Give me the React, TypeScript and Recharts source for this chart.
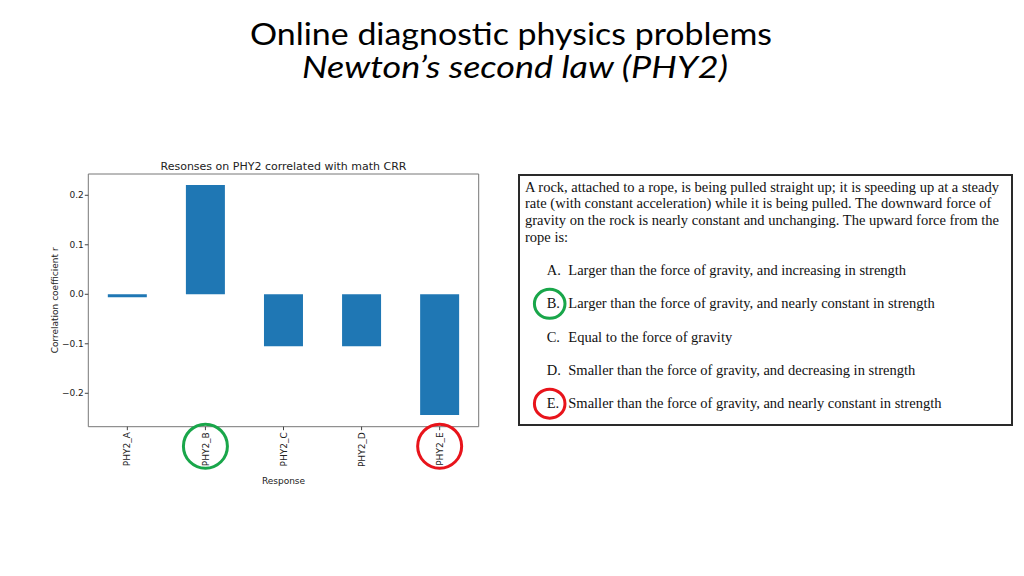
import React from 'react';
import { BarChart, Bar, XAxis, YAxis, Label } from 'recharts';

const categories = ['PHY2_A', 'PHY2_B', 'PHY2_C', 'PHY2_D', 'PHY2_E'];
const correlations = [-0.006, 0.221, -0.105, -0.105, -0.244];
const yTicks = [-0.2, -0.1, 0, 0.1, 0.2];
const yDomain = [-0.2675, 0.243];
const circledCategories: Record<string, string> = { PHY2_B: '#19a64a', PHY2_E: '#e8141b' };

const pageTitle = 'Online diagnostic physics problems';
const pageSubtitle = 'Newton\u2019s second law (PHY2)';
const chartTitle = 'Resonses on PHY2 correlated with math CRR';
const yLabel = 'Correlation coefficient r';
const xLabel = 'Response';

const questionLines = [
  'A rock, attached to a rope, is being pulled straight up; it is speeding up at a steady',
  'rate (with constant acceleration) while it is being pulled. The downward force of',
  'gravity on the rock is nearly constant and unchanging. The upward force from the',
  'rope is:',
];
const optionLetters = ['A.', 'B.', 'C.', 'D.', 'E.'];
const optionTexts = [
  'Larger than the force of gravity, and increasing in strength',
  'Larger than the force of gravity, and nearly constant in strength',
  'Equal to the force of gravity',
  'Smaller than the force of gravity, and decreasing in strength',
  'Smaller than the force of gravity, and nearly constant in strength',
];
const circledOptions: Record<string, string> = { 'B.': '#19a64a', 'E.': '#e8141b' };

const data = categories.map((c, i) => ({ name: c, r: correlations[i] }));

const FONT = '"DejaVu Sans", sans-serif';
const SERIF = '"Liberation Serif", "Times New Roman", serif';

const fmt = (v: number) => (v < 0 ? '\u2212' : '') + Math.abs(v).toFixed(1);

const XTick = (props: any) => {
  const { x, y, payload } = props;
  const col = circledCategories[payload.value];
  return (
    <g transform={`translate(${x},${y})`}>
      <text
        transform="rotate(-90)"
        x={0}
        y={0}
        dy="0.35em"
        textAnchor="end"
        fontSize={9}
        fontFamily={FONT}
        fill="#222"
      >
        {payload.value}
      </text>
      {col && <circle cx={0} cy={14} r={22} fill="none" stroke={col} strokeWidth={3} />}
    </g>
  );
};

export default function App() {
  const optTop = 275;
  const optStep = 33.3;
  return (
    <div
      style={{
        position: 'absolute',
        left: 0,
        top: 0,
        width: 1024,
        height: 576,
        background: '#fff',
        overflow: 'hidden',
      }}
    >
      <div style={{ position: 'absolute', left: 30, top: 140 }}>
        <BarChart
          width={470}
          height={360}
          data={data}
          margin={{ top: 33, right: 20.3, left: 0, bottom: 0 }}
          barCategoryGap="25%"
        >
          <XAxis
            dataKey="name"
            xAxisId="bottom"
            height={73.3}
            tickSize={3.5}
            tickMargin={2}
            tick={<XTick />}
            axisLine={{ stroke: '#777' }}
            tickLine={{ stroke: '#444' }}
            interval={0}
          >
            <Label
              value={xLabel}
              position="insideBottom"
              offset={16.5}
              style={{ fontFamily: FONT, fontSize: 9, fill: '#222' }}
            />
          </XAxis>
          <XAxis
            dataKey="name"
            xAxisId="top"
            orientation="top"
            height={1}
            tick={false}
            tickLine={false}
            axisLine={{ stroke: '#777' }}
          />
          <YAxis
            yAxisId="left"
            width={58.3}
            domain={yDomain}
            ticks={yTicks}
            allowDataOverflow
            tickFormatter={fmt}
            tickSize={3.5}
            tickMargin={1}
            tick={{ fontSize: 9, fontFamily: FONT, fill: '#222' }}
            axisLine={{ stroke: '#777' }}
            tickLine={{ stroke: '#444' }}
          >
            <Label
              value={yLabel}
              angle={-90}
              position="insideLeft"
              offset={25}
              style={{ fontFamily: FONT, fontSize: 9, fill: '#222', textAnchor: 'middle' }}
            />
          </YAxis>
          <YAxis
            yAxisId="right"
            orientation="right"
            width={1}
            domain={yDomain}
            allowDataOverflow
            tick={false}
            tickLine={false}
            axisLine={{ stroke: '#777' }}
          />
          <Bar dataKey="r" xAxisId="bottom" yAxisId="left" fill="#1f77b4" isAnimationActive={false} />
          <Bar dataKey="r" xAxisId="top" yAxisId="right" fill="none" hide isAnimationActive={false} />
        </BarChart>
      </div>

      <svg
        width={1024}
        height={576}
        style={{ position: 'absolute', left: 0, top: 0, pointerEvents: 'none' }}
      >
        <text
          x={250}
          y={45}
          fontFamily="Lato, sans-serif"
          fontSize={30}
          fill="#000"
          textLength={522}
          lengthAdjust="spacingAndGlyphs"
        >
          {pageTitle}
        </text>
        <text
          x={302}
          y={78}
          fontFamily="Lato, sans-serif"
          fontStyle="italic"
          fontSize={30}
          fill="#000"
          textLength={426}
          lengthAdjust="spacingAndGlyphs"
        >
          {pageSubtitle}
        </text>

        <text x={283.5} y={170} textAnchor="middle" fontFamily={FONT} fontSize={11} fill="#222">
          {chartTitle}
        </text>

        <rect x={519} y={175} width={493} height={250} fill="none" stroke="#2a2a2a" strokeWidth={2} />
        {questionLines.map((l, i) => (
          <text key={i} x={525} y={191.7 + i * 16.7} fontFamily={SERIF} fontSize={14.5} fill="#111">
            {l}
          </text>
        ))}
        {optionLetters.map((l, i) => (
          <g key={l}>
            <text x={546.7} y={optTop + i * optStep} fontFamily={SERIF} fontSize={14.5} fill="#111">
              {l}
            </text>
            <text x={568.3} y={optTop + i * optStep} fontFamily={SERIF} fontSize={14.5} fill="#111">
              {optionTexts[i]}
            </text>
            {circledOptions[l] && (
              <ellipse
                cx={549.7}
                cy={optTop + i * optStep - 4.5}
                rx={15.3}
                ry={14.5}
                fill="none"
                stroke={circledOptions[l]}
                strokeWidth={3}
              />
            )}
          </g>
        ))}
      </svg>
    </div>
  );
}
